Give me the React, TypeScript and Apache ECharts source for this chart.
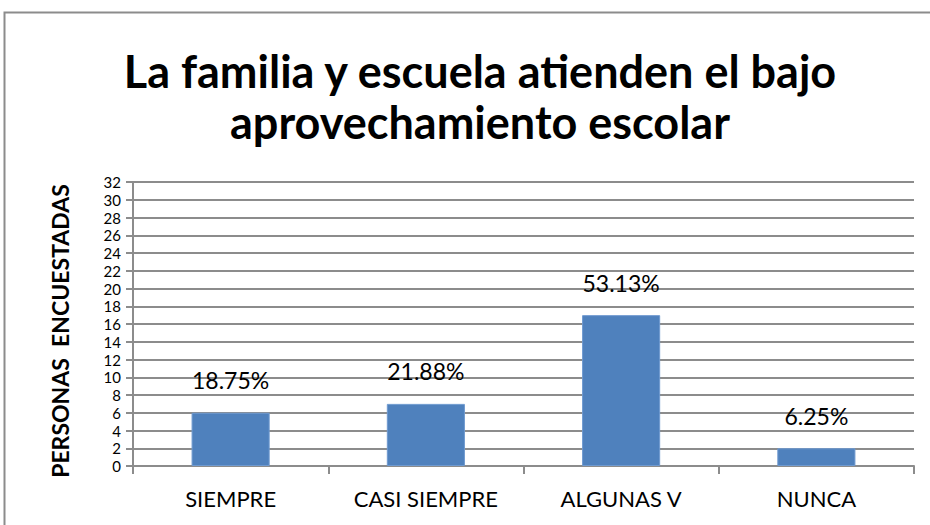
import React, { useEffect, useRef } from "react";
import * as echarts from "echarts";

const categories = ["SIEMPRE", "CASI SIEMPRE", "ALGUNAS V", "NUNCA"];
const counts = [6, 7, 17, 2];
const percentLabels = ["18.75%", "21.88%", "53.13%", "6.25%"];
const titleText = "La familia y escuela atienden el bajo\naprovechamiento escolar";
const yAxisName = "PERSONAS  ENCUESTADAS";

const FONT = "Lato";

export default function App() {
  const ref = useRef<HTMLDivElement>(null);
  useEffect(() => {
    if (!ref.current) return;
    const chart = echarts.init(ref.current, null, { renderer: "svg" });
    chart.setOption({
      animation: false,
      backgroundColor: "#ffffff",
      title: {
        text: titleText,
        left: 475,
        textAlign: "center",
        top: 40,
        textStyle: {
          fontFamily: FONT,
          fontWeight: "bold",
          fontSize: 45,
          lineHeight: 51,
          color: "#000",
        },
      },
      graphic: [
        {
          type: "rect",
          shape: { x: 4.5, y: 12.5, width: 940, height: 530 },
          style: { fill: "none", stroke: "#8c8c8c", lineWidth: 2 },
          silent: true,
        },
      ],
      grid: { left: 133, right: 16, top: 182, bottom: 59 },
      xAxis: {
        type: "category",
        data: categories,
        axisLine: { lineStyle: { color: "#8c8c8c", width: 2 } },
        axisTick: { show: true, length: 8, alignWithLabel: false, lineStyle: { color: "#8c8c8c", width: 2 } },
        axisLabel: { fontFamily: FONT, fontSize: 22, color: "#000", margin: 21 },
      },
      yAxis: {
        type: "value",
        min: 0,
        max: 32,
        interval: 2,
        name: yAxisName,
        nameLocation: "middle",
        nameGap: 62,
        nameRotate: 90,
        nameTextStyle: { fontFamily: FONT, fontWeight: "bold", fontSize: 23, color: "#000", padding: [0, 14, 0, 0] },
        axisLine: { show: true, lineStyle: { color: "#8c8c8c", width: 2 } },
        axisTick: { show: true, length: 7, lineStyle: { color: "#8c8c8c", width: 2 } },
        splitLine: { lineStyle: { color: "#8c8c8c", width: 2 } },
        axisLabel: {
          fontFamily: FONT,
          fontSize: 15,
          lineHeight: 15,
          color: "#000",
          margin: 12,
          showMinLabel: true,
          showMaxLabel: true,
          hideOverlap: false,
        },
      },
      series: [
        {
          type: "bar",
          data: counts,
          barWidth: "40%",
          itemStyle: { color: "#4F81BD", borderColor: "#6f9ad0", borderWidth: 1 },
          label: {
            show: true,
            position: "top",
            distance: 21,
            fontFamily: FONT,
            fontSize: 23,
            color: "#000",
            formatter: (p: any) => percentLabels[p.dataIndex],
          },
        },
      ],
    });
    return () => chart.dispose();
  }, []);
  return (
    <div
      ref={ref}
      style={{ position: "absolute", left: 0, top: 0, width: 930, height: 525 }}
    />
  );
}
